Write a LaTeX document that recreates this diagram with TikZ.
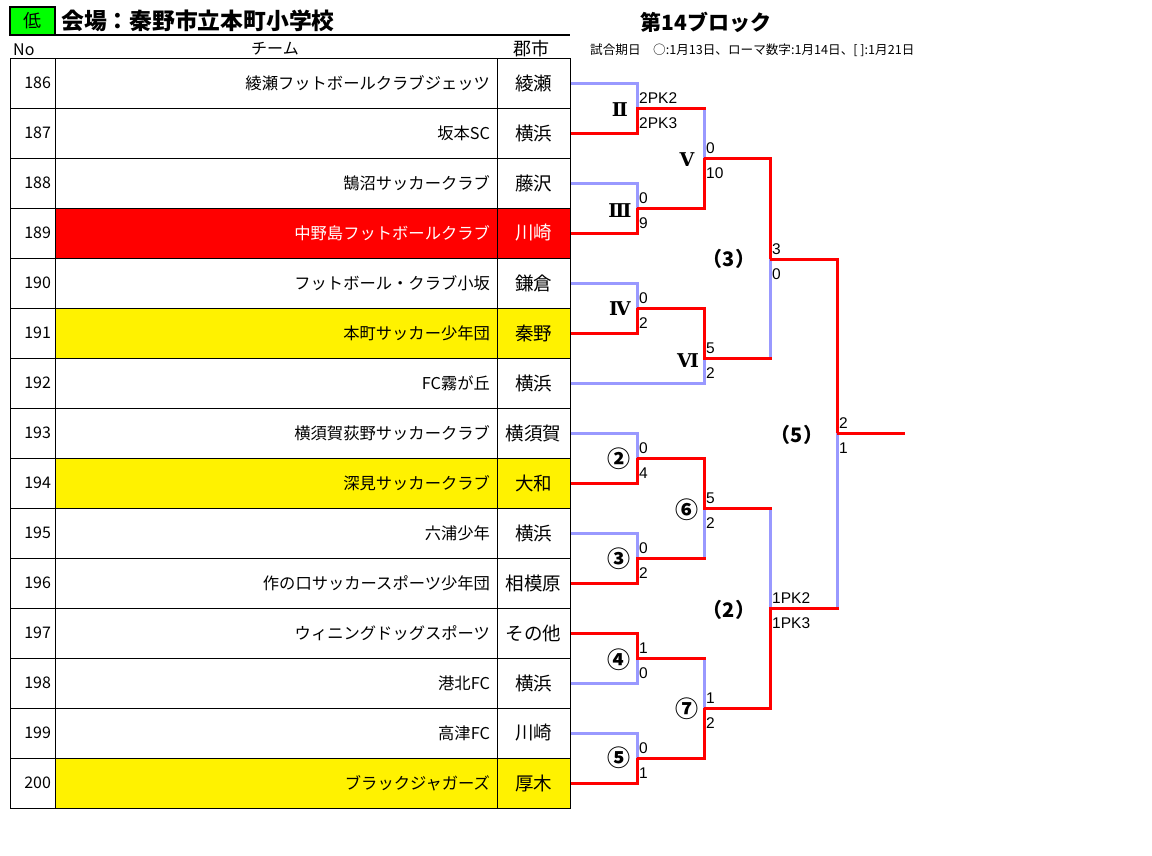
\documentclass[tikz,border=0pt]{standalone}
\usepackage{fontspec}
\setmainfont{Noto Sans CJK JP}
\newfontfamily\latf{Liberation Sans}
\newfontfamily\romf{DejaVu Serif}
\definecolor{blueline}{RGB}{153,153,255}
\definecolor{lowgreen}{RGB}{0,255,0}
\tikzset{
  numcell/.style={draw=black, line width=1pt, rectangle, minimum width=45pt, minimum height=50pt, inner xsep=4pt, text width=37pt, align=right, font=\fontsize{16}{16}\selectfont},
  teamcell/.style={draw=black, line width=1pt, rectangle, minimum width=442pt, minimum height=50pt, inner xsep=7pt, text width=428pt, align=right, font=\fontsize{16.3}{16.3}\selectfont},
  citycell/.style={draw=black, line width=1pt, rectangle, minimum width=73pt, minimum height=50pt, inner sep=0pt, align=center, font=\fontsize{18.5}{18.5}\selectfont},
  win/.style={draw=red, line width=3pt},
  lose/.style={draw=blueline, line width=3pt},
  scu/.style={anchor=base west, inner sep=0pt, font=\latf\fontsize{15.5}{15.5}\selectfont},
  romlab/.style={inner sep=0pt, font=\romf\bfseries\fontsize{19}{19}\selectfont},
  cirlab/.style={inner sep=0pt, font=\bfseries\fontsize{23}{23}\selectfont},
  parlab/.style={inner sep=0pt, font=\bfseries\fontsize{20}{20}\selectfont},
  rule/.style={draw=black, line width=1.5pt},
}
\begin{document}
\begin{tikzpicture}[x=1pt,y=-1pt]
\useasboundingbox (0,0) rectangle (1152,855);
\fill[white] (0,0) rectangle (1152,855);
% header
\node[draw=black, line width=1.5pt, fill=lowgreen, minimum width=45pt, minimum height=28pt, inner sep=0pt, font=\fontsize{18}{18}\selectfont] (low) at (32.5,21) {低};
\coordinate (ulstart) at (55,35);
\coordinate (ulend) at (570,35);
\node[anchor=west, inner sep=0pt, font=\bfseries\fontsize{22.8}{22.8}\selectfont] (title) at (61,21) {会場：秦野市立本町小学校};
\node[anchor=west, inner sep=0pt, font=\fontsize{16}{16}\selectfont] (hno) at (13,50) {No};
\node[inner sep=0pt, font=\fontsize{16}{16}\selectfont] (hteam) at (275,49) {チーム};
\node[inner sep=0pt, font=\fontsize{18}{18}\selectfont] (hcity) at (531,49) {郡市};
\node[inner sep=0pt, font=\bfseries\fontsize{21}{21}\selectfont] (block) at (706,22) {第14ブロック};
\node[anchor=west, inner sep=0pt, font=\fontsize{12.6}{12.6}\selectfont] (dates) at (590,50) {試合期日　○:1月13日、ローマ数字:1月14日、[ ]:1月21日};
% table
\foreach \no/\team/\city/\fc/\tc [count=\i from 0] in {
 186/綾瀬フットボールクラブジェッツ/綾瀬/white/black,
 187/坂本SC/横浜/white/black,
 188/鵠沼サッカークラブ/藤沢/white/black,
 189/中野島フットボールクラブ/川崎/red/white,
 190/フットボール・クラブ小坂/鎌倉/white/black,
 191/本町サッカー少年団/秦野/yellow/black,
 192/FC霧が丘/横浜/white/black,
 193/横須賀荻野サッカークラブ/横須賀/white/black,
 194/深見サッカークラブ/大和/yellow/black,
 195/六浦少年/横浜/white/black,
 196/作の口サッカースポーツ少年団/相模原/white/black,
 197/ウィニングドッグスポーツ/その他/white/black,
 198/港北FC/横浜/white/black,
 199/高津FC/川崎/white/black,
 200/ブラックジャガーズ/厚木/yellow/black}{
  \node[numcell] (n\no) at (32.5,83+50*\i) {\no};
  \node[teamcell, fill=\fc, text=\tc] (t\no) at (276,83+50*\i) {\team};
  \node[citycell, fill=\fc, text=\tc] (c\no) at (533.5,83+50*\i) {\city};
  \coordinate (r\no) at (c\no.east);
}
% match junctions
\coordinate (mII) at (637,108);
\coordinate (mIII) at (637,208);
\coordinate (mIV) at (637,308);
\coordinate (m2) at (637,458);
\coordinate (m3) at (637,558);
\coordinate (m4) at (637,658);
\coordinate (m5) at (637,758);
\coordinate (mV) at (704,158);
\coordinate (mVI) at (704,358);
\coordinate (m6) at (704,508);
\coordinate (m7) at (704,708);
\coordinate (mR3) at (770,259);
\coordinate (mR2) at (770,608);
\coordinate (mR5) at (837,433);
\coordinate (champ) at (905,433);
% losers
\draw[lose] (r186) -| (mII);
\draw[lose] (r188) -| (mIII);
\draw[lose] (r190) -| (mIV);
\draw[lose] (r192) -| (mVI);
\draw[lose] (r193) -| (m2);
\draw[lose] (r195) -| (m3);
\draw[lose] (r198) -| (m4);
\draw[lose] (r199) -| (m5);
\draw[lose] (mII) -| (mV);
\draw[lose] (mVI) -| (mR3);
\draw[lose] (m3) -| (m6);
\draw[lose] (m4) -| (m7);
\draw[lose] (m6) -| (mR2);
\draw[lose] (mR2) -| (mR5);
% winners
\draw[win] (r187) -| (mII);
\draw[win] (r189) -| (mIII);
\draw[win] (r191) -| (mIV);
\draw[win] (r194) -| (m2);
\draw[win] (r196) -| (m3);
\draw[win] (r197) -| (m4);
\draw[win] (r200) -| (m5);
\draw[win] (mIII) -| (mV);
\draw[win] (mIV) -| (mVI);
\draw[win] (mV) -| (mR3);
\draw[win] (m2) -| (m6);
\draw[win] (m5) -| (m7);
\draw[win] (m7) -| (mR2);
\draw[win] (mR3) -| (mR5);
\draw[win] (mR5) -- (champ);
\draw[win, line cap=rect] (mII) -- (mII -| mV);
\draw[win, line cap=rect] (mVI) -- (mVI -| mR3);
\draw[win, line cap=rect] (m3) -- (m3 -| m6);
\draw[win, line cap=rect] (m4) -- (m4 -| m7);
\draw[win, line cap=rect] (m6) -- (m6 -| mR2);
\draw[win, line cap=rect] (mR2) -- (mR2 -| mR5);
% scores
\node[scu] (sIIa) at ([xshift=2pt,yshift=5pt]mII) {2PK2};
\node[scu] (sIIb) at ([xshift=2pt,yshift=-20pt]mII) {2PK3};
\node[scu] (sIIIa) at ([xshift=2pt,yshift=5pt]mIII) {0};
\node[scu] (sIIIb) at ([xshift=2pt,yshift=-20pt]mIII) {9};
\node[scu] (sIVa) at ([xshift=2pt,yshift=5pt]mIV) {0};
\node[scu] (sIVb) at ([xshift=2pt,yshift=-20pt]mIV) {2};
\node[scu] (s2a) at ([xshift=2pt,yshift=5pt]m2) {0};
\node[scu] (s2b) at ([xshift=2pt,yshift=-20pt]m2) {4};
\node[scu] (s3a) at ([xshift=2pt,yshift=5pt]m3) {0};
\node[scu] (s3b) at ([xshift=2pt,yshift=-20pt]m3) {2};
\node[scu] (s4a) at ([xshift=2pt,yshift=5pt]m4) {1};
\node[scu] (s4b) at ([xshift=2pt,yshift=-20pt]m4) {0};
\node[scu] (s5a) at ([xshift=2pt,yshift=5pt]m5) {0};
\node[scu] (s5b) at ([xshift=2pt,yshift=-20pt]m5) {1};
\node[scu] (sVa) at ([xshift=2pt,yshift=5pt]mV) {0};
\node[scu] (sVb) at ([xshift=2pt,yshift=-20pt]mV) {10};
\node[scu] (sVIa) at ([xshift=2pt,yshift=5pt]mVI) {5};
\node[scu] (sVIb) at ([xshift=2pt,yshift=-20pt]mVI) {2};
\node[scu] (s6a) at ([xshift=2pt,yshift=5pt]m6) {5};
\node[scu] (s6b) at ([xshift=2pt,yshift=-20pt]m6) {2};
\node[scu] (s7a) at ([xshift=2pt,yshift=5pt]m7) {1};
\node[scu] (s7b) at ([xshift=2pt,yshift=-20pt]m7) {2};
\node[scu] (sR3a) at ([xshift=2pt,yshift=5pt]mR3) {3};
\node[scu] (sR3b) at ([xshift=2pt,yshift=-20pt]mR3) {0};
\node[scu] (sR2a) at ([xshift=2pt,yshift=5pt]mR2) {1PK2};
\node[scu] (sR2b) at ([xshift=2pt,yshift=-20pt]mR2) {1PK3};
\node[scu] (sR5a) at ([xshift=2pt,yshift=5pt]mR5) {2};
\node[scu] (sR5b) at ([xshift=2pt,yshift=-20pt]mR5) {1};
% match labels
\node[romlab] (lII) at (620,110) {Ⅱ};
\node[romlab] (lIII) at (620,211) {Ⅲ};
\node[romlab] (lIV) at (620,309) {Ⅳ};
\node[romlab] (lV) at (687,160) {Ⅴ};
\node[romlab] (lVI) at (688,361) {Ⅵ};
\node[cirlab] (l2) at (619,459) {②};
\node[cirlab] (l3) at (619,559) {③};
\node[cirlab] (l4) at (619,660) {④};
\node[cirlab] (l5) at (619,758) {⑤};
\node[cirlab] (l6) at (687,510) {⑥};
\node[cirlab] (l7) at (687,709) {⑦};
\node[parlab] (lR3) at (729,259) {（3）};
\node[parlab] (lR2) at (729,610) {（2）};
\node[parlab] (lR5) at (797,435) {（5）};
% rule under the title, drawn last
\path[rule] (ulstart) -- (ulend);
\end{tikzpicture}
\end{document}
